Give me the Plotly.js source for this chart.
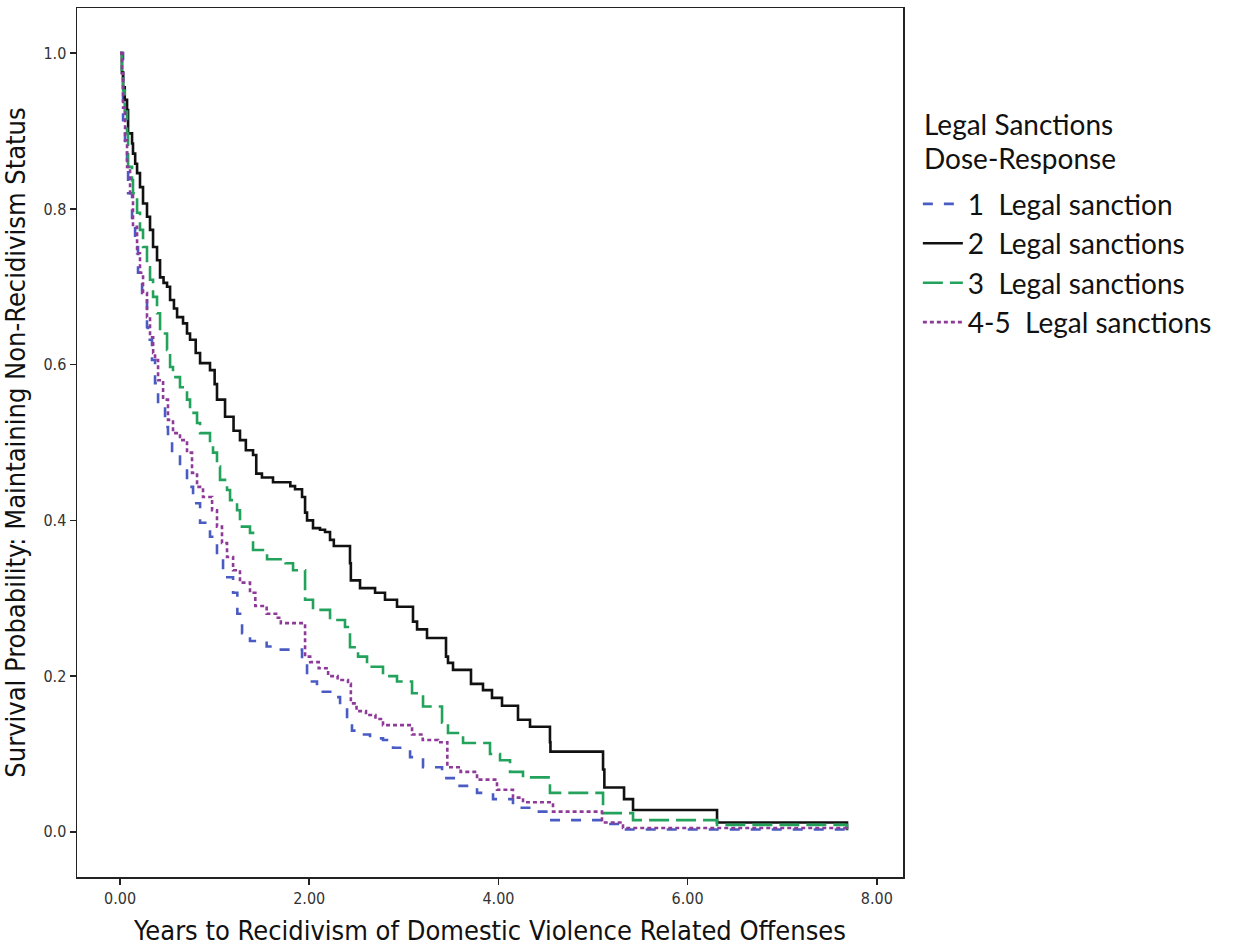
<!DOCTYPE html>
<html>
<head>
<meta charset="utf-8">
<script src="https://cdn.plot.ly/plotly-3.0.1.min.js"></script>
<style>
  html, body { margin: 0; padding: 0; background: #fff; }
  #chart { width: 1243px; height: 951px; }
</style>
</head>
<body>
<div id="chart"></div>
<script>
// Kaplan-Meier step data (time in years, survival after each drop)
const seriesNames = ["1  Legal sanction", "2  Legal sanctions", "3  Legal sanctions", "4-5  Legal sanctions"];
const legendTitleLines = ["Legal Sanctions", "Dose-Response"];

const t1 = [0, 0.032, 0.053, 0.074, 0.085, 0.127, 0.159, 0.19, 0.233, 0.285, 0.296, 0.338, 0.37, 0.402, 0.476, 0.507, 0.55, 0.634, 0.708, 0.772, 0.846, 0.951, 1.025, 1.089, 1.195, 1.24, 1.29, 1.374, 1.55, 1.70, 1.924, 1.977, 2.082, 2.252, 2.326, 2.40, 2.452, 2.537, 2.643, 2.78, 2.886, 3.066, 3.203, 3.404, 3.562, 3.774, 3.943, 4.154, 4.355, 4.545, 5.106, 5.317, 7.685];
const s1 = [1.0, 0.914, 0.875, 0.854, 0.82, 0.786, 0.751, 0.718, 0.692, 0.648, 0.632, 0.606, 0.576, 0.546, 0.52, 0.503, 0.487, 0.469, 0.443, 0.422, 0.397, 0.379, 0.353, 0.327, 0.307, 0.28, 0.255, 0.245, 0.238, 0.234, 0.217, 0.193, 0.18, 0.173, 0.16, 0.14, 0.13, 0.125, 0.12, 0.118, 0.108, 0.096, 0.083, 0.069, 0.059, 0.05, 0.042, 0.031, 0.026, 0.015, 0.01, 0.003, 0.002];

const t2 = [0, 0.02, 0.032, 0.05, 0.074, 0.085, 0.127, 0.137, 0.16, 0.18, 0.211, 0.243, 0.285, 0.317, 0.349, 0.391, 0.423, 0.46, 0.497, 0.529, 0.57, 0.603, 0.666, 0.708, 0.74, 0.80, 0.846, 0.951, 1.0, 1.025, 1.11, 1.2, 1.268, 1.33, 1.406, 1.44, 1.5, 1.617, 1.8, 1.85, 1.924, 1.956, 1.977, 2.04, 2.114, 2.167, 2.22, 2.26, 2.431, 2.44, 2.537, 2.696, 2.801, 2.928, 3.097, 3.14, 3.245, 3.446, 3.467, 3.52, 3.71, 3.837, 3.932, 4.038, 4.207, 4.334, 4.545, 4.55, 5.106, 5.12, 5.328, 5.423, 6.311, 7.685];
const s2 = [1.0, 0.975, 0.956, 0.94, 0.927, 0.897, 0.884, 0.871, 0.858, 0.846, 0.828, 0.807, 0.79, 0.773, 0.751, 0.734, 0.712, 0.705, 0.70, 0.683, 0.672, 0.661, 0.653, 0.64, 0.632, 0.615, 0.602, 0.593, 0.575, 0.555, 0.533, 0.515, 0.503, 0.49, 0.484, 0.46, 0.455, 0.449, 0.444, 0.44, 0.43, 0.41, 0.40, 0.39, 0.388, 0.385, 0.375, 0.367, 0.345, 0.323, 0.313, 0.307, 0.298, 0.289, 0.27, 0.26, 0.249, 0.225, 0.217, 0.208, 0.19, 0.182, 0.172, 0.162, 0.144, 0.135, 0.115, 0.103, 0.08, 0.057, 0.042, 0.028, 0.012, 0.002];

const t3 = [0, 0.02, 0.032, 0.05, 0.074, 0.085, 0.127, 0.137, 0.18, 0.211, 0.243, 0.285, 0.317, 0.349, 0.391, 0.423, 0.497, 0.529, 0.56, 0.634, 0.708, 0.74, 0.814, 0.846, 0.951, 0.983, 1.025, 1.057, 1.131, 1.163, 1.237, 1.268, 1.374, 1.406, 1.554, 1.75, 1.829, 1.956, 2.04, 2.22, 2.378, 2.431, 2.516, 2.611, 2.78, 2.928, 3.087, 3.203, 3.404, 3.467, 3.626, 3.911, 4.017, 4.123, 4.26, 4.545, 5.106, 5.423, 6.311, 7.685];
const s3 = [1.0, 0.975, 0.952, 0.925, 0.897, 0.854, 0.837, 0.82, 0.795, 0.773, 0.751, 0.725, 0.709, 0.687, 0.666, 0.64, 0.619, 0.597, 0.584, 0.571, 0.555, 0.538, 0.525, 0.512, 0.499, 0.487, 0.469, 0.452, 0.439, 0.426, 0.413, 0.392, 0.384, 0.362, 0.35, 0.345, 0.336, 0.298, 0.285, 0.272, 0.263, 0.237, 0.225, 0.212, 0.20, 0.193, 0.178, 0.161, 0.14, 0.127, 0.114, 0.10, 0.092, 0.077, 0.07, 0.05, 0.024, 0.015, 0.009, 0.003];

const t4 = [0, 0.021, 0.032, 0.053, 0.074, 0.106, 0.137, 0.18, 0.211, 0.243, 0.285, 0.317, 0.35, 0.37, 0.402, 0.455, 0.507, 0.56, 0.634, 0.708, 0.761, 0.814, 0.877, 0.973, 1.025, 1.078, 1.131, 1.195, 1.268, 1.374, 1.43, 1.55, 1.65, 1.7, 1.956, 2.01, 2.1, 2.2, 2.3, 2.41, 2.44, 2.5, 2.6, 2.7, 2.78, 3.087, 3.2, 3.362, 3.46, 3.6, 3.774, 3.985, 4.154, 4.26, 4.577, 5.095, 5.317, 7.685];
const s4 = [1.0, 0.974, 0.93, 0.888, 0.854, 0.82, 0.777, 0.743, 0.718, 0.692, 0.661, 0.635, 0.615, 0.606, 0.58, 0.555, 0.529, 0.512, 0.503, 0.487, 0.461, 0.443, 0.43, 0.413, 0.392, 0.371, 0.353, 0.336, 0.32, 0.307, 0.29, 0.28, 0.275, 0.268, 0.225, 0.218, 0.21, 0.2, 0.195, 0.19, 0.165, 0.155, 0.15, 0.145, 0.137, 0.125, 0.118, 0.115, 0.083, 0.077, 0.067, 0.054, 0.044, 0.038, 0.026, 0.012, 0.005, 0.002];

const xTickVals = [0, 2, 4, 6, 8];
const yTickVals = [0, 0.2, 0.4, 0.6, 0.8, 1.0];

const colors = ["#4a5cc4", "#111111", "#22a25a", "#8e3a98"];
const dashes = ["10px,11px", "solid", "20px,7px", "4px,3px"];
const times = [t1, t2, t3, t4];
const surv = [s1, s2, s3, s4];

const traces = seriesNames.map((name, i) => ({
  type: "scatter",
  mode: "lines",
  name: name,
  legendgroup: "g" + i,
  x: times[i],
  y: surv[i],
  line: { shape: "hv", color: colors[i], width: 2.6, dash: dashes[i] }
}));

const narrow = "DejaVu Sans Condensed, Liberation Sans Narrow, Arial Narrow, sans-serif";
const legendFont = "Lato, Noto Sans, sans-serif";

const layout = {
  width: 1243,
  height: 951,
  margin: { l: 77, r: 340, t: 8, b: 74 },
  paper_bgcolor: "#ffffff",
  plot_bgcolor: "#ffffff",
  showlegend: true,
  legend: {
    x: 1.018, y: 0.803, xanchor: "left", yanchor: "top",
    font: { family: legendFont, size: 28, color: "#111" },
    tracegroupgap: 0,
    itemwidth: 40,
    bgcolor: "rgba(0,0,0,0)"
  },
  annotations: legendTitleLines.map((txt, i) => ({
    text: txt,
    xref: "paper", yref: "paper",
    x: 1.023, y: [0.8665, 0.8275][i],
    xanchor: "left", yanchor: "middle",
    showarrow: false,
    font: { family: legendFont, size: 28, color: "#111" }
  })),
  xaxis: {
    range: [-0.455, 8.277],
    tickvals: xTickVals,
    tickformat: ".2f",
    ticks: "outside", ticklen: 6, tickwidth: 1.5, tickcolor: "#222",
    showline: true, linecolor: "#222", linewidth: 1.5, mirror: true,
    showgrid: false, zeroline: false,
    tickfont: { family: narrow, size: 16, color: "#333" },
    title: { text: "Years to Recidivism of Domestic Violence Related Offenses", font: { family: narrow, size: 27, color: "#111" }, standoff: 14 }
  },
  yaxis: {
    range: [-0.058, 1.058],
    tickvals: yTickVals,
    tickformat: ".1f",
    ticks: "outside", ticklen: 6, tickwidth: 1.5, tickcolor: "#222",
    showline: true, linecolor: "#222", linewidth: 1.5, mirror: true,
    showgrid: false, zeroline: false,
    tickfont: { family: narrow, size: 16, color: "#333" },
    title: { text: "Survival Probability: Maintaining Non-Recidivism Status", font: { family: narrow, size: 27, color: "#111" }, standoff: 10 }
  }
};

Plotly.newPlot("chart", traces, layout, { displayModeBar: false, staticPlot: true });
</script>
</body>
</html>
